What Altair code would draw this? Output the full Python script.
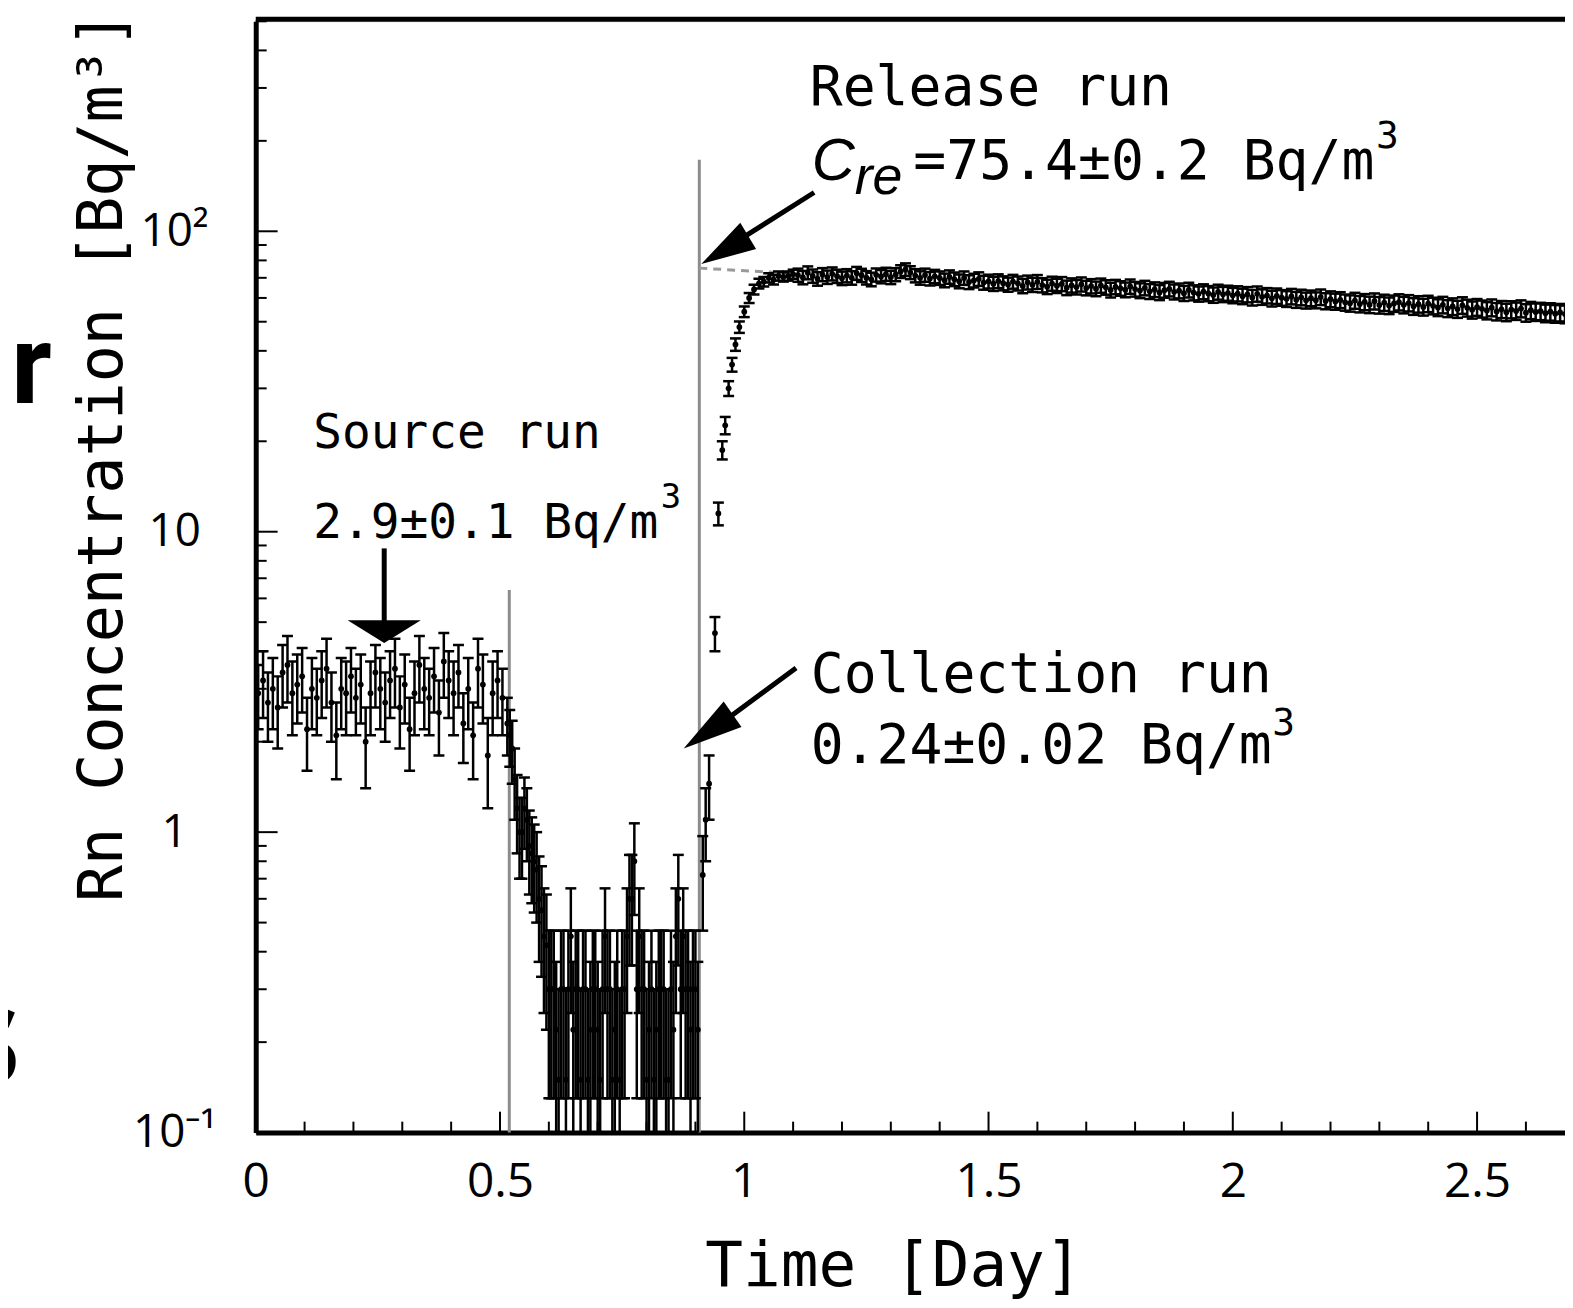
import altair as alt
import pandas as pd
import numpy as np

# ---------------- data ----------------
step = 0.01
# Source run (t = 0.005, 0.015, ...)
src_t0 = 0.005
src_v = [2.9, 3.2, 2.7, 3.0, 2.6, 3.4, 3.6, 2.9, 3.1, 3.3,
         2.2, 3.0, 2.8, 3.2, 3.5, 2.7, 2.1, 3.0, 2.9, 3.3,
         2.8, 3.1, 2.0, 2.9, 3.4, 3.0, 2.7, 3.2, 3.5, 2.6,
         3.1, 2.2, 2.9, 3.6, 3.0, 2.8, 3.3, 2.5, 3.7, 3.2,
         2.9, 3.4, 2.3, 3.0, 2.1, 3.5, 3.1, 1.8, 2.9, 3.2,
         2.8]
src_e = [0.7, 0.8, 0.7, 0.8, 0.7, 0.8, 0.9, 0.8, 0.8, 0.8,
         0.6, 0.8, 0.7, 0.8, 0.9, 0.7, 0.6, 0.8, 0.8, 0.8,
         0.7, 0.8, 0.6, 0.8, 0.8, 0.8, 0.7, 0.8, 0.9, 0.7,
         0.8, 0.6, 0.8, 0.9, 0.8, 0.7, 0.8, 0.7, 0.9, 0.8,
         0.8, 0.8, 0.6, 0.8, 0.6, 0.9, 0.8, 0.6, 0.8, 0.8,
         0.7]

# Collection run (t = 0.515, 0.525, ...)
col_t0 = 0.515
col_v = [2.3, 1.9, 1.2, 1.0, 1.1, 0.85, 0.75, 0.55, 0.42, 0.3,
         0.22, 0.3, 0.15, 0.45, 0.3, 0.15, 0.3, 0.22, 0.3, 0.15,
         0.45, 0.3, 0.22, 0.15, 0.3, 0.6, 0.8, 0.45, 0.3, 0.22,
         0.15, 0.3, 0.3, 0.15, 0.22, 0.6, 0.45, 0.3, 0.3, 0.22]
col_e = [0.5, 0.45, 0.35, 0.3, 0.3, 0.27, 0.25, 0.22, 0.2, 0.17,
         0.15, 0.17, 0.15, 0.2, 0.17, 0.15, 0.17, 0.15, 0.17, 0.15,
         0.2, 0.17, 0.15, 0.15, 0.17, 0.24, 0.27, 0.2, 0.17, 0.15,
         0.15, 0.17, 0.17, 0.15, 0.15, 0.24, 0.2, 0.17, 0.17, 0.15]
# extra collection-run points, interleaved between the ones above
col2_t0 = 0.52
col2_v = [2.1, 1.5, 1.0, 1.2, 0.9, 0.8, 0.6, 0.45, 0.3, 0.3,
          0.15, 0.3, 0.3, 0.22, 0.3, 0.3, 0.15, 0.3, 0.22, 0.3,
          0.3, 0.15, 0.3, 0.3, 0.45, 0.6, 0.3, 0.3, 0.15, 0.3,
          0.22, 0.3, 0.15, 0.3, 0.45, 0.3, 0.3, 0.22, 0.3]
col2_e = [0.45, 0.4, 0.3, 0.32, 0.28, 0.26, 0.23, 0.2, 0.17, 0.17,
          0.15, 0.17, 0.17, 0.15, 0.17, 0.17, 0.15, 0.17, 0.15, 0.17,
          0.17, 0.15, 0.17, 0.17, 0.2, 0.24, 0.17, 0.17, 0.15, 0.17,
          0.15, 0.17, 0.15, 0.17, 0.2, 0.17, 0.17, 0.15, 0.17]

# Release run: rise
rise_t = [0.915, 0.921, 0.928, 0.940, 0.947, 0.955, 0.961, 0.968, 0.975, 0.982, 0.990,
          1.000, 1.010, 1.020, 1.030, 1.040, 1.050, 1.060, 1.070, 1.080, 1.090, 1.100]
rise_v = [0.72, 1.1, 1.45, 4.6, 11.5, 18.7, 22.6, 30, 36, 42, 48,
          54, 60, 64, 67, 68, 70, 69, 71, 70.5, 71, 72]
rise_e = [0.25, 0.3, 0.35, 0.6, 1.0, 1.3, 1.5, 1.7, 1.9, 2.0, 2.1,
          2.2, 2.3, 2.4, 2.5, 2.5, 2.5, 2.5, 2.5, 2.5, 2.5, 2.5]

# Release run: plateau (t = 1.11, 1.12, ... 2.68)
pl_t0 = 1.11
pl_v = [71.5, 70.2, 72.8, 71.0, 69.5, 71.8, 70.4, 72.2, 70.9, 69.8,
        71.2, 70.0, 72.5, 71.4, 70.1, 69.2, 71.6, 70.7, 72.0, 70.3,
        71.8, 73.5, 74.6, 72.9, 71.2, 70.0, 71.5, 69.6, 70.8, 69.9,
        68.7, 70.5, 69.3, 68.2, 69.9, 67.8, 68.6, 69.4, 67.5, 68.1,
        66.9, 68.3, 67.2, 66.5, 68.0, 67.1, 65.8, 67.6, 66.4, 67.9,
        66.2, 65.4, 67.0, 65.9, 66.8, 64.9, 66.1, 65.2, 66.6, 64.8,
        65.7, 64.4, 66.0, 65.1, 63.8, 65.3, 64.6, 63.9, 65.5, 64.2,
        63.5, 64.8, 63.1, 64.0, 62.6, 63.7, 64.3, 62.9, 63.4, 62.2,
        63.8, 62.5, 61.9, 63.0, 62.1, 61.4, 62.8, 61.7, 62.3, 61.2,
        62.0, 60.8, 61.6, 60.2, 61.9, 60.5, 61.1, 59.8, 60.9, 60.1,
        59.6, 60.7, 59.2, 60.3, 58.9, 59.9, 59.0, 60.4, 58.6, 59.5,
        58.4, 59.1, 58.0, 57.6, 58.8, 57.3, 58.2, 57.0, 58.5, 56.8,
        57.9, 56.6, 57.5, 58.1, 56.9, 57.7, 56.3, 57.2, 56.0, 57.4,
        56.5, 55.8, 56.9, 55.4, 56.2, 55.1, 56.7, 55.6, 54.8, 55.9,
        55.2, 54.5, 55.7, 54.1, 55.0, 53.8, 54.9, 54.3, 55.3, 53.6,
        54.6, 53.9, 54.2, 53.4, 54.0, 53.2, 53.7, 53.0]
pl_err = 3.6

# run boundary lines and fit line
run_line_t = [0.519, 0.908]
run_line_top = [6.4, 173.0]
fit_t = [0.908, 1.106]
fit_v = [75.4, 72.3]

# arrows (tail -> shaft end) and heads
shaft_t = [0.263, 1.143, 1.106]
shaft_v = [8.8, 134.6, 3.52]
shaft_t2 = [0.263, 0.959, 0.928]
shaft_v2 = [4.7, 87.0, 2.15]
head_t = [0.263, 0.912, 0.876]
head_v = [4.26, 77.8, 1.90]
head_angle = [180, 239, 235]
head_shape = ["M0,0L1.6,1L-1.6,1Z", "M0,0L0.28,1L-0.28,1Z", "M0,0L0.26,1L-0.26,1Z"]
head_size = [2116, 12100, 14400]

# annotations
ann_text = ["Source run", "2.9±0.1 Bq/m", "Release run", "=75.4±0.2 Bq/m",
            "Collection run", "0.24±0.02 Bq/m"]
ann_t = [0.118, 0.118, 1.134, 1.346, 1.136, 1.136]
ann_v = [19.0, 9.55, 263.6, 149.8, 2.93, 1.705]
ann_size = [48, 48, 55, 55, 55, 55]
sup_text = ["3", "3", "3"]
sup_t = [0.829, 2.293, 2.081]
sup_v = [12.0, 189.8, 2.11]
sup_size = [34, 38, 38]
ital_text = ["C", "re"]
ital_t = [1.138, 1.226]
ital_v = [148.6, 132.6]
ital_size = [60, 54]

x_major = [0, 0.5, 1.0, 1.5, 2.0, 2.5]
x_minor = [round(0.1 * i, 1) for i in range(1, 27) if i % 5]
y_major = [0.1, 1, 10, 100]
y_minor = [round(m * 10 ** k, 3) for k in (-1, 0, 1, 2) for m in range(2, 10) if m * 10 ** k <= 500]

# ---------------- build tables ----------------
def seg(t, v, e):
    return pd.DataFrame({"t": t, "v": v, "e": e})

df = pd.concat([
    seg([round(src_t0 + step * i, 4) for i in range(len(src_v))], src_v, src_e),
    seg([round(col_t0 + step * i, 4) for i in range(len(col_v))], col_v, col_e),
    seg([round(col2_t0 + step * i, 4) for i in range(len(col2_v))], col2_v, col2_e),
    seg(rise_t, rise_v, rise_e),
    seg([round(pl_t0 + step * i, 4) for i in range(len(pl_v))], pl_v, [pl_err] * len(pl_v)),
], ignore_index=True)
df["lo"] = np.maximum(df["v"] - df["e"], 0.02)
df["hi"] = df["v"] + df["e"]

W, H = 1316, 1117
xs = alt.Scale(domain=[0, 2.68], nice=False, zero=False)
ys = alt.Scale(type="log", domain=[0.1, 500], nice=False)

x_axis = alt.Axis(values=x_major, format="~g", title="Time [Day]")
y_axis = alt.Axis(values=y_major, title="Rn Concentration [Bq/m³]",
                  labelExpr="datum.value >= 99 ? '10²' : datum.value >= 9 ? '10' : datum.value >= 0.9 ? '1' : '10⁻¹'")

def X(f):
    return alt.X(f, scale=xs, axis=x_axis)

def Y(f):
    return alt.Y(f, scale=ys, axis=y_axis)

base = alt.Chart(df)
points = base.mark_circle(size=34, color="black", opacity=1, clip=True).encode(x=X("t:Q"), y=Y("v:Q"))
bars = base.mark_rule(color="black", strokeWidth=2.5, clip=True).encode(x=X("t:Q"), y=Y("lo:Q"), y2="hi:Q")
caps_lo = base.mark_tick(orient="horizontal", size=11, thickness=2.5, color="black", opacity=1,
                         clip=True).encode(x=X("t:Q"), y=Y("lo:Q"))
caps_hi = base.mark_tick(orient="horizontal", size=11, thickness=2.5, color="black", opacity=1,
                         clip=True).encode(x=X("t:Q"), y=Y("hi:Q"))

lines_df = pd.DataFrame({"t": run_line_t, "lo": [0.1, 0.1], "hi": run_line_top})
run_lines = alt.Chart(lines_df).mark_rule(color="#8c8c8c", strokeWidth=3).encode(
    x=X("t:Q"), y=Y("lo:Q"), y2="hi:Q")
fit_df = pd.DataFrame({"t": fit_t, "v": fit_v})
fit = alt.Chart(fit_df).mark_line(color="#9a9a9a", strokeDash=[8, 6], strokeWidth=3).encode(
    x=X("t:Q"), y=Y("v:Q"))

shaft_df = pd.DataFrame({"t": shaft_t, "v": shaft_v, "t2": shaft_t2, "v2": shaft_v2})
shafts = alt.Chart(shaft_df).mark_rule(color="black", strokeWidth=5).encode(
    x=X("t:Q"), y=Y("v:Q"), x2="t2:Q", y2="v2:Q")
head_df = pd.DataFrame({"t": head_t, "v": head_v, "angle": head_angle,
                        "shape": head_shape, "size": head_size})
heads = alt.Chart(head_df).mark_point(filled=True, color="black", opacity=1, strokeWidth=0).encode(
    x=X("t:Q"), y=Y("v:Q"),
    angle=alt.Angle("angle:Q", scale=None),
    shape=alt.Shape("shape:N", scale=None),
    size=alt.Size("size:Q", scale=None),
)

def text_layer(t, v, text, size, **kw):
    d = pd.DataFrame({"t": t, "v": v, "text": text, "size": size})
    return alt.Chart(d).mark_text(align="left", baseline="alphabetic", color="black", **kw).encode(
        x=X("t:Q"), y=Y("v:Q"), text="text:N", size=alt.Size("size:Q", scale=None))

ann = text_layer(ann_t, ann_v, ann_text, ann_size, font="DejaVu Sans Mono")
sup = text_layer(sup_t, sup_v, sup_text, sup_size, font="DejaVu Sans Mono")
ital = text_layer(ital_t, ital_v, ital_text, ital_size, font="Liberation Sans", fontStyle="italic")

# inward ticks
xmaj = alt.Chart(pd.DataFrame({"t": x_major})).mark_rule(color="black", strokeWidth=2).encode(
    x=X("t:Q"), y=alt.value(H), y2=alt.value(H - 21))
xmin = alt.Chart(pd.DataFrame({"t": x_minor})).mark_rule(color="black", strokeWidth=2).encode(
    x=X("t:Q"), y=alt.value(H), y2=alt.value(H - 11))
ymaj = alt.Chart(pd.DataFrame({"v": y_major})).mark_rule(color="black", strokeWidth=2).encode(
    y=Y("v:Q"), x=alt.value(0), x2=alt.value(22))
ymin = alt.Chart(pd.DataFrame({"v": y_minor})).mark_rule(color="black", strokeWidth=2).encode(
    y=Y("v:Q"), x=alt.value(0), x2=alt.value(11))
top_border = alt.Chart(pd.DataFrame({"a": [0]})).mark_rule(color="black", strokeWidth=5).encode(
    x=alt.value(0), x2=alt.value(W), y=alt.value(-2))

# fragments of neighbouring slide text at the left edge
frag_r = alt.Chart(pd.DataFrame({"text": ["r"]})).mark_text(
    align="left", baseline="alphabetic", font="Roboto", fontWeight="bold", fontSize=112,
    color="black").encode(x=alt.value(-246), y=alt.value(384), text="text:N")
frag_s = alt.Chart(pd.DataFrame({"text": ["s"]})).mark_text(
    align="right", baseline="alphabetic", font="Open Sans", fontWeight="bold", fontSize=140,
    color="black").encode(x=alt.value(-236), y=alt.value(1069), text="text:N")

chart = alt.layer(
    run_lines, fit, bars, caps_lo, caps_hi, points,
    xmaj, xmin, ymaj, ymin, top_border,
    shafts, heads, ann, sup, ital, frag_r, frag_s,
).properties(
    width=W, height=H,
    padding={"left": 249, "top": 10, "right": 0, "bottom": 181},
    autosize=alt.AutoSizeParams(type="none"),
).configure_view(stroke=None).configure(background="white").configure_axis(
    grid=False, ticks=False, tickSize=0, domain=True, domainColor="black", domainWidth=5,
    labelColor="black", titleColor="black", titleFontWeight="normal", labelFont="Open Sans",
    titleFont="DejaVu Sans Mono", labelOverlap=False,
).configure_axisX(
    labelFontSize=48, labelPadding=26, labelFlush=False, titleFontSize=63,
    titleX=641, titleY=154, titleAlign="center", titleBaseline="alphabetic",
).configure_axisY(
    labelFontSize=46, labelAlign="center", labelBaseline="middle", labelPadding=82,
    titleFontSize=62, titleAngle=270, titleX=-135, titleY=437, titleAlign="center",
    titleBaseline="alphabetic",
)

chart.save("out.html", embed_options={"renderer": "svg", "actions": False})
